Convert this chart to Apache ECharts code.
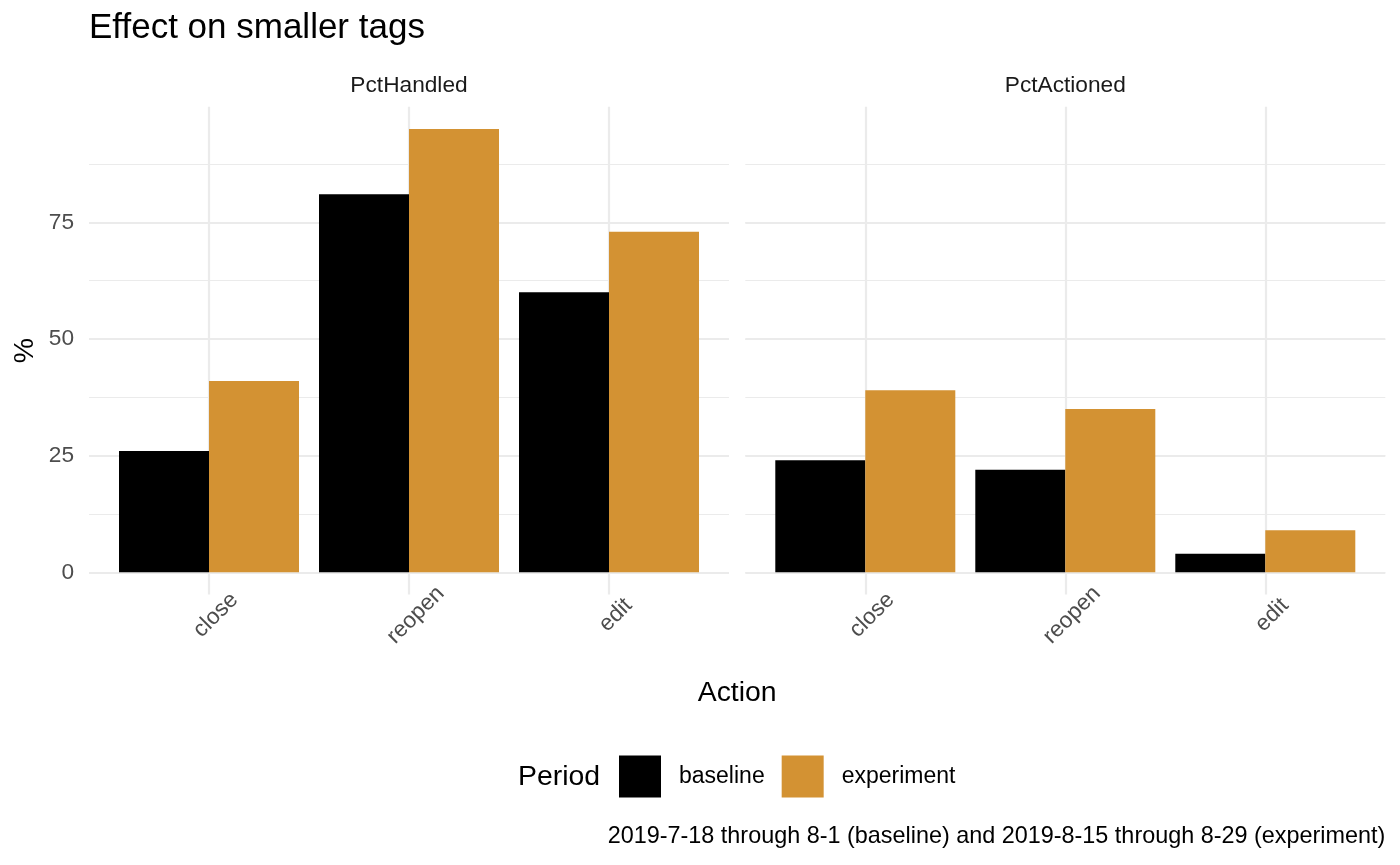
<!DOCTYPE html>
<html>
<head>
<meta charset="utf-8">
<script src="https://cdn.jsdelivr.net/npm/echarts@6/dist/echarts.min.js"></script>
<style>
html, body { margin: 0; padding: 0; background: #ffffff; }
#chart { width: 1400px; height: 865px; }
</style>
</head>
<body>
<div id="chart"></div>
<script>
// ---------------- data ----------------
const chartTitle = 'Effect on smaller tags';
const facets = ['PctHandled', 'PctActioned'];
const categories = ['close', 'reopen', 'edit'];
const periods = ['baseline', 'experiment'];
const handledBaseline = [26, 81, 60];
const handledExperiment = [41, 95, 73];
const actionedBaseline = [24, 22, 4];
const actionedExperiment = [39, 35, 9];
const yTicks = [0, 25, 50, 75];
const xAxisTitle = 'Action';
const yAxisTitle = '%';
const legendTitle = 'Period';
const captionText = '2019-7-18 through 8-1 (baseline) and 2019-8-15 through 8-29 (experiment)';

// ---------------- styles / layout ----------------
const facetValues = [
  [handledBaseline, handledExperiment],
  [actionedBaseline, actionedExperiment]
];
const colors = ['#000000', '#D39233'];
const FONT = '"Liberation Sans", Arial, Helvetica, sans-serif';
const gridColor = '#EBEBEB';
const majorWidth = 2.2;
const minorWidth = 1.1;
const panelLefts = [89, 745.3];
const panelWidth = 640;
const bandWidth = 200;
const yZero = 572.3;
const k = 4.6667;            // pixels per unit
const yLow = -4.75, yHigh = 99.75;
const baseSize = 28.4;
const smallSize = 22.7;

const tickStep = yTicks[1] - yTicks[0];
const majorMax = yTicks[yTicks.length - 1];
const minorMax = majorMax + tickStep / 2;
const barMax = 100;

const grids = [], xAxes = [], yAxes = [], series = [];

function quietValueAxis(gi, extra) {
  return Object.assign({
    type: 'value', gridIndex: gi,
    axisLine: { show: false }, axisTick: { show: false },
    axisLabel: { show: false }, splitLine: { show: false }
  }, extra || {});
}
function gridBox(left, width, top, height) {
  return { left: left, width: width, top: top, height: height,
           containLabel: false, outerBoundsMode: 'none' };
}

panelLefts.forEach(function (L, p) {
  // minor horizontal lines
  let gi = grids.length;
  grids.push(gridBox(L, panelWidth, yZero - minorMax * k, minorMax * k));
  xAxes.push({ type: 'value', gridIndex: gi, show: false, min: 0, max: 1 });
  yAxes.push(quietValueAxis(gi, {
    min: 0, max: minorMax, interval: tickStep / 2,
    splitLine: { show: true, lineStyle: { color: gridColor, width: minorWidth } }
  }));

  // major horizontal lines (+ y tick labels on first panel)
  gi = grids.length;
  grids.push(gridBox(L, panelWidth, yZero - majorMax * k, majorMax * k));
  xAxes.push({ type: 'value', gridIndex: gi, show: false, min: 0, max: 1 });
  yAxes.push(quietValueAxis(gi, {
    min: yTicks[0], max: majorMax, interval: tickStep,
    axisLabel: { show: p === 0, color: '#4D4D4D', fontSize: smallSize,
                 fontFamily: FONT, margin: 15 },
    splitLine: { show: true, lineStyle: { color: gridColor, width: majorWidth } }
  }));

  // vertical lines at category centres
  gi = grids.length;
  grids.push(gridBox(L + 0.6 * bandWidth, (categories.length - 1) * bandWidth,
                     yZero - yHigh * k, (yHigh - yLow) * k));
  xAxes.push(quietValueAxis(gi, {
    min: 1, max: categories.length, interval: 1,
    splitLine: { show: true, lineStyle: { color: gridColor, width: majorWidth } }
  }));
  yAxes.push({ type: 'value', gridIndex: gi, show: false, min: 0, max: 1 });

  // bars
  gi = grids.length;
  grids.push(gridBox(L + 0.6 * bandWidth - bandWidth / 2, categories.length * bandWidth,
                     yZero - barMax * k, barMax * k));
  const xi = xAxes.length;
  xAxes.push({
    type: 'category', gridIndex: gi, data: categories, boundaryGap: true,
    axisLine: { show: false }, axisTick: { show: false }, splitLine: { show: false },
    axisLabel: { show: true, interval: 0, rotate: 45, align: 'center', verticalAlign: 'top',
                 margin: 36, lineHeight: 19, color: '#4D4D4D', fontSize: smallSize,
                 fontFamily: FONT }
  });
  const yi = yAxes.length;
  yAxes.push(quietValueAxis(gi, { min: 0, max: barMax }));

  periods.forEach(function (name, s) {
    series.push({
      type: 'bar', name: name, xAxisIndex: xi, yAxisIndex: yi,
      data: facetValues[p][s],
      barWidth: 0.45 * bandWidth, barGap: '0%',
      itemStyle: { color: colors[s] },
      emphasis: { disabled: true },
      silent: true
    });
  });
});

function textTitle(text, left, top, size, color, align) {
  const t = {
    text: text, left: left, top: top, padding: 0,
    textVerticalAlign: 'middle',
    textStyle: { fontSize: size, fontWeight: 'normal', color: color,
                 fontFamily: FONT, lineHeight: size }
  };
  if (align) t.textAlign = align;
  return t;
}

const titles = [
  textTitle(chartTitle, 89, 28, 35, '#000000', 'left'),
  textTitle(xAxisTitle, (panelLefts[0] + panelLefts[1] + panelWidth) / 2, 693, baseSize, '#000000', 'center'),
  textTitle(legendTitle, 518, 777, baseSize, '#000000', 'left'),
  textTitle(captionText, panelLefts[1] + panelWidth, 836.5, 23.4, '#000000', 'right')
];
facets.forEach(function (f, p) {
  titles.push(textTitle(f, panelLefts[p] + panelWidth / 2, 85.6, smallSize, '#1A1A1A', 'center'));
});

const option = {
  backgroundColor: '#ffffff',
  animation: false,
  title: titles,
  grid: grids,
  xAxis: xAxes,
  yAxis: yAxes,
  series: series,
  legend: {
    data: periods, left: 619, top: 755.5, orient: 'horizontal',
    itemWidth: 42, itemHeight: 42, itemGap: 17, padding: 0, icon: 'rect',
    selectedMode: false,
    textStyle: { fontSize: 23, color: '#000000', fontFamily: FONT, padding: [0, 0, 0, 13] }
  },
  graphic: [{
    type: 'text', x: 25, y: (yZero - yHigh * k + yZero - yLow * k) / 2,
    rotation: Math.PI / 2,
    style: { text: yAxisTitle, font: baseSize + 'px ' + FONT, fill: '#000000',
             align: 'center', verticalAlign: 'middle',
             textAlign: 'center', textVerticalAlign: 'middle' }
  }]
};

const chart = echarts.init(document.getElementById('chart'), null, { renderer: 'canvas' });
chart.setOption(option);
</script>
</body>
</html>
